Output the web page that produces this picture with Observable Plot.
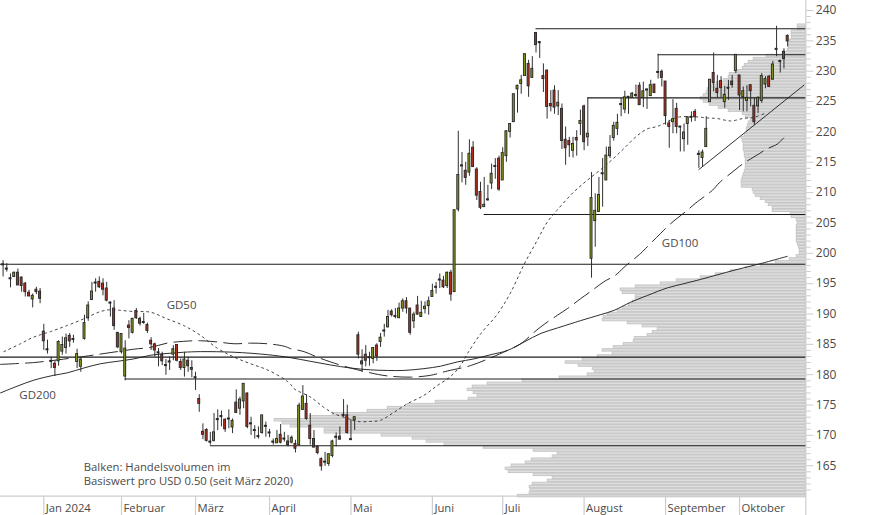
<!DOCTYPE html>
<html><head><meta charset="utf-8">
<style>html,body{margin:0;padding:0;background:#fff}svg{display:block}</style>
<script src="https://cdn.jsdelivr.net/npm/d3@7"></script>
<script src="https://cdn.jsdelivr.net/npm/@observablehq/plot@0.6"></script>
</head><body><div id="chart"></div>
<script>
const firstSession = -11;
const high = [198.8,198.3,196.6,196.9,197.4,196.1,195.2,193.9,193.3,194.4,194.2,
188.3,185.7,182.9,182.3,185.6,186.2,186.7,186.8,186.5,184.2,
182.8,189.8,192.0,195.2,195.8,196.1,195.8,195.2,192.0,192.2,
186.9,186.7,185.6,188.9,189.3,190.9,189.5,190.1,188.5,186.1,
185.2,184.3,183.7,182.5,182.9,184.8,184.9,182.6,183.7,182.9,
182.3,180.4,176.7,171.9,171.1,170.5,173.6,174.2,174.0,172.7,
174.2,172.7,177.5,176.3,178.5,177.0,173.0,171.6,171.4,173.3,
172.2,171.0,169.4,170.8,171.8,170.5,170.0,169.9,169.2,175.3,
178.2,176.7,173.6,170.8,168.3,166.3,167.2,167.0,169.2,170.4,
171.4,175.9,175.0,172.6,173.1,187.0,184.1,184.8,183.7,184.4,
185.1,186.8,188.3,190.6,190.7,190.9,191.8,192.5,192.7,190.9,
190.3,192.9,192.1,192.0,192.8,194.9,195.2,196.6,196.2,196.9,
197.2,207.1,220.1,216.6,215.0,218.7,218.4,214.1,211.7,212.5,
211.2,214.7,215.6,216.0,217.4,220.2,221.3,226.3,227.7,229.3,
232.9,231.8,232.4,236.4,234.9,231.2,230.2,226.8,227.6,226.8,
224.6,220.8,219.1,219.1,220.2,223.6,224.4,225.6,213.3,209.8,
212.5,215.6,217.5,219.4,221.6,222.9,225.5,226.7,225.8,226.5,
227.7,228.1,228.2,227.1,228.5,227.8,232.8,230.2,228.3,221.9,
225.3,224.7,220.9,221.3,222.5,223.3,223.7,216.9,217.0,222.5,
228.6,233.0,229.3,229.1,227.5,228.5,229.3,232.7,229.3,227.4,
227.6,227.7,225.6,225.8,229.6,229.1,229.3,231.6,237.4,231.8,
233.7,236.0];
const low = [196.1,196.9,194.3,196.0,194.7,193.6,192.8,192.8,191.0,193.2,191.7,
184.0,183.4,181.0,179.7,181.4,183.2,183.4,184.5,185.2,181.0,
180.4,185.7,188.8,192.2,193.6,194.2,193.0,192.0,189.5,187.3,
184.3,183.4,179.0,185.9,186.7,189.1,188.0,188.3,186.8,184.0,
182.9,181.3,181.5,179.9,180.7,182.3,182.1,180.7,179.6,180.4,
179.5,177.4,173.8,169.3,168.9,168.4,168.9,170.8,171.4,170.5,
171.1,170.3,173.6,173.3,174.4,171.1,170.0,169.4,169.4,170.2,
169.7,169.6,168.4,168.7,168.6,168.9,168.1,168.6,167.1,168.3,
174.1,172.5,168.4,167.9,166.8,164.1,164.9,164.9,166.3,168.1,
169.2,173.0,170.2,169.2,170.8,182.6,180.4,181.3,181.4,181.8,
182.2,184.5,186.2,187.7,189.5,189.2,189.3,190.3,190.0,186.5,
187.6,189.8,189.5,190.0,189.8,192.8,193.3,194.2,194.2,194.2,
192.1,193.6,206.8,211.6,211.2,212.7,214.2,208.7,207.2,207.6,
208.6,210.5,212.2,210.2,212.0,215.0,219.0,221.6,223.1,226.2,
229.2,225.7,228.9,233.0,232.1,226.5,222.1,223.3,222.9,222.7,
217.1,214.5,215.8,215.7,216.0,219.4,216.9,217.6,195.9,201.0,
206.8,207.6,212.0,215.6,218.5,219.4,222.5,223.0,222.9,225.6,
225.6,224.4,224.0,223.7,225.8,226.3,228.7,227.4,221.1,217.3,
219.7,219.7,216.7,216.7,217.8,221.6,221.7,214.0,214.2,217.5,
224.9,226.6,225.6,225.6,223.9,225.2,227.2,229.6,223.5,223.3,
223.3,224.1,221.1,223.0,224.7,227.1,227.3,228.5,232.4,229.7,
230.4,234.0];
const open = [198.1,197.4,195.8,196.1,196.8,196.0,195.0,193.5,192.4,194.0,193.7,
187.1,184.1,182.2,181.8,182.2,183.8,184.4,186.4,185.8,182.1,
181.3,185.9,189.3,192.3,195.1,195.3,195.0,194.2,191.8,190.9,
186.9,183.7,179.7,188.1,186.9,190.5,189.2,188.6,188.2,185.6,
185.0,183.6,183.3,181.5,182.1,183.3,184.9,182.1,181.1,182.3,
181.1,179.5,176.0,170.6,170.9,168.9,169.1,172.6,173.1,172.6,
172.7,171.3,175.4,174.4,175.6,176.9,171.9,170.8,169.8,170.4,
171.5,170.4,168.9,168.7,170.1,169.4,169.0,168.8,168.6,168.4,
174.2,175.2,171.6,169.4,168.1,166.1,165.6,165.3,166.6,169.7,
169.8,173.3,173.3,169.3,172.5,186.5,182.2,183.3,182.8,182.6,
184.8,185.4,187.2,187.8,190.4,189.6,189.3,190.9,192.1,190.9,
188.8,191.4,189.5,190.8,191.3,192.8,194.4,195.6,195.5,194.6,
196.8,193.6,207.2,214.4,213.6,213.3,217.4,213.8,210.1,207.6,
208.8,211.5,214.3,215.6,212.0,216.0,220.0,221.6,227.0,227.9,
229.2,231.2,228.9,236.3,234.7,229.2,230.1,224.6,226.8,224.2,
223.8,218.7,218.5,216.9,219.0,221.3,224.2,219.1,199.1,205.3,
206.8,213.1,212.0,216.0,219.0,220.5,224.5,223.7,225.7,225.6,
226.0,227.6,225.6,226.9,225.9,227.8,229.8,229.9,228.3,221.4,
221.6,223.8,220.8,218.8,221.3,222.4,223.3,216.3,215.7,217.5,
224.9,229.7,227.1,228.4,224.9,227.2,228.3,230.0,229.3,225.7,
225.1,227.7,224.3,224.2,225.1,227.8,229.1,228.6,233.6,231.6,
233.2,235.8];
const close = [198.1,197.4,195.8,196.8,194.7,194.6,193.6,192.9,193.0,193.6,192.5,
185.5,184.1,182.2,181.1,185.4,184.9,186.0,185.5,185.8,183.4,
182.5,188.5,191.4,193.7,195.1,194.4,194.0,192.2,191.8,188.0,
184.5,186.7,184.3,187.7,189.2,189.3,188.4,188.6,187.2,185.0,
184.0,183.6,182.2,181.5,182.1,184.2,182.3,181.1,182.5,181.4,
180.8,179.5,175.2,170.1,169.1,168.9,170.5,172.6,173.1,171.0,
172.7,172.4,173.7,175.9,178.5,171.4,171.9,170.8,169.8,173.3,
171.5,170.4,168.9,169.4,168.8,169.4,168.4,169.6,167.8,174.9,
176.4,172.7,169.4,168.0,167.1,164.9,165.6,166.9,169.0,169.7,
169.3,173.3,170.4,169.3,173.0,183.3,181.7,182.3,182.8,184.4,
183.0,186.1,187.2,189.5,189.8,189.6,190.9,192.1,190.9,186.9,
189.9,189.9,190.2,191.2,192.1,193.8,194.4,195.6,194.4,196.8,
193.2,207.1,212.9,214.4,212.4,216.4,214.2,209.5,207.5,208.0,
208.8,213.1,214.3,210.5,216.5,220.1,221.3,226.2,227.6,228.5,
232.8,227.5,230.4,234.3,234.7,228.7,224.1,224.2,224.0,224.8,
218.5,217.3,217.8,218.0,218.6,221.8,218.3,219.7,209.1,207.0,
209.6,213.1,216.1,217.4,221.0,221.5,224.5,225.7,225.7,226.3,
226.0,224.4,226.7,226.9,227.7,226.4,229.8,228.9,222.6,220.8,
222.1,220.8,220.8,219.9,222.4,222.4,222.4,216.3,216.6,220.5,
228.6,228.0,226.4,227.2,226.1,227.2,227.7,232.7,226.0,226.7,
225.6,226.7,221.6,225.6,229.2,228.7,227.4,231.1,233.6,231.6,
232.0,234.9];

// Volume profile: one value per USD 0.50 price level, from 237.5 downwards
const topLevel = 237.5;
const volume = [8,8,14,14,14,16,17,17,18,23,39,52,57,61,63,68,76,77,82,89,
94,98,99,102,105,102,96,87,77,63,60,55,57,58,59,59,61,64,63,62,
62,62,61,61,60,60,60,60,61,62,63,64,64,64,53,52,50,45,40,37,
33,33,15,14,9,8,9,9,9,9,9,9,8,7,6,6,9,16,30,45,
60,75,90,105,129,145,170,185,183,170,170,173,177,183,188,198,202,203,178,163,
148,153,158,171,172,182,192,203,193,208,223,240,227,213,211,218,246,283,318,333,
338,332,328,337,370,398,418,438,473,496,531,523,515,481,481,424,393,379,361,322,
272,248,253,274,280,294,300,297,272,253,258,273,276,275,276,288];

// Moving averages
const gd50Session = [-10.8,-6.3,-2.7,1.8,6.3,10.8,15.3,18,20.7,24.3,28.8,33.3,37.8,42.3,46.8,51.4,55.9,60.4,64.9,66.7,
67.6,72.1,75.7,78.4,82,84.7,88.3,91,94.6,98.2,102.7,106.3,109.9,112.6,114.4,118,122.6,126.2,129.8,133.3,136,138.7,143.2,146.8,151.3,155.8,160.4,163.1,165.8,168,171.2,175.7,179.3,182,185.6,188.8,191.9,194.6];
const gd50Value = [183.8,185.1,186.2,187.1,188.1,189.2,190.4,190.7,190.6,190.4,190.3,189.2,188.1,186.5,184.4,182.9,181.8,180.8,179.3,178.4,
177.7,176.3,174.6,173.6,172.8,172.3,172.3,172.5,173.8,175.2,176.6,178.2,179.7,181.5,183.4,186.7,190,193.6,198.2,202.1,205.1,207.1,210.1,212,214.2,216.7,219.4,220.5,220.9,221.5,222.4,222.5,222.3,222.2,221.8,222.2,222.4,223];
const gd100Session = [-11.7,-2.7,1.8,10.8,15.3,19.8,24.3,28.8,33.3,37.8,42.3,46.8,51.4,55.9,60.4,64.9,66.7,70.3,73.9,77.5,82.9,88.3,92.8,99.1,104.5,109,115.3,120.8,125.3,128.9,132.5,135.2,138.8,141.5,145,148.2,151.3,154.5,156.8,161.3,163.1,166.7,169.4,173.9,176.2,180.7,182.5,186.5,188.8,193.3,195.4,198.2,199.9];
const gd100Value = [181.7,182,182.3,183,183.4,183.8,184.2,184.5,185.2,185.5,185.6,185.4,185.1,185.2,185.1,184.7,184.3,183.8,182.9,182.1,181.1,180.3,179.8,179.6,179.9,180.6,181.5,182.8,184,185.1,187,188.3,189.8,190.9,192.5,193.9,195.3,196.4,197.7,200,201.1,203.3,204.9,207.1,208.3,210.4,211.6,213.6,214.7,216.4,217.2,218,219];
const gd200Session = [-11.7,-7.2,-2.7,2.7,6.3,10.8,15.3,19.8,24.3,28.8,33.3,37.8,42.3,51.4,60.4,66.7,72.1,77.5,82.9,88.3,92.8,97.3,102.7,107.2,111.7,116.2,120.8,125.3,129.8,134.3,138.8,142.4,145,150.5,154.1,158.6,163.1,168.5,173,177.5,186.5,193.7,200.9];
const gd200Value = [177,178.1,179.1,179.9,180.3,181.1,181.8,182.2,182.6,183.2,183.5,183.7,183.8,183.7,183.3,182.8,182.2,181.6,181.1,180.8,180.7,180.7,181,181.4,182.1,182.6,183.3,184,185.4,186.8,187.7,188.4,188.9,189.9,190.6,191.95,193.05,194.3,195,195.7,197.2,198.3,199.5];

// Horizontal support / resistance lines and the trend line
const levelPrice = [198.2,182.9,179.3,168.3,206.4,225.6,232.7,237.0];
const levelStart = [-11.7,-11.7,22,45,119,147,166,133];
const trendSession = [177,205.4];
const trendPrice = [213.8,227.7];

// Axis contents
const monthSession = [0,21,41,61,83,105,124,146,168,188];
const monthLabel = ["Jan 2024","Februar","März","April","Mai","Juni","Juli","August","September","Oktober"];
const majorTicks = [165,170,175,180,185,190,195,200,205,210,215,220,225,230,235,240];
const minorTicks = d3.range(161,240).filter(v => v % 5 !== 0);

const noteLines = ["Balken: Handelsvolumen im","Basiswert pro USD 0.50 (seit März 2020)"];
const notePrice = [164.7,162.4];
const noteSession = 10.8;
const maLabels = ["GD50","GD100","GD200"];
const maLabelSession = [33.2,167,-6.6];
const maLabelPrice = [191.4,201.7,176.6];

const xMin = -11.7, xMax = 205.9, yMin = 160, axisBottom = 156.75, axisTop = 241.6;
const volumePerSession = 3.7;
const textColor = "#4a4a4a", axisColor = "#cdcdcd", lineColor = "#1c1c1c";
const olive = "#8d9c16", red = "#b32f1d", outline = "#262626";

const sessions = d3.range(high.length).map(k => k + firstSession);
const idx = d3.range(high.length);
const bodyLow = k => open[k] === close[k] ? close[k] - 0.09 : Math.min(open[k], close[k]);
const bodyHigh = k => open[k] === close[k] ? close[k] + 0.09 : Math.max(open[k], close[k]);
const toPoints = (xs, ys) => xs.map((x, k) => ({x, y: ys[k]}));

const chart = Plot.plot({
  width: 874, height: 515,
  marginTop: 0, marginRight: 68.7, marginBottom: 19.4, marginLeft: 0,
  style: {fontFamily: "'Open Sans',sans-serif", fontSize: "11.3px", background: "#fff", overflow: "visible"},
  x: {domain: [xMin, xMax], range: [0, 805.3], axis: null},
  y: {domain: [yMin, 240], range: [495.6, 10], axis: null},
  marks: [
    // volume profile
    Plot.rect(volume, {
      x1: v => xMax - v / volumePerSession, x2: xMax,
      y1: (v, k) => topLevel - k * 0.5 - 0.2, y2: (v, k) => topLevel - k * 0.5 + 0.2,
      fill: "#dedede", stroke: "#c6c6c6", strokeWidth: 1
    }),
    // axes frame
    Plot.ruleY([yMin], {x1: xMin, x2: xMax, stroke: axisColor, strokeWidth: 1.2}),
    Plot.ruleX([xMax], {y1: axisBottom, y2: axisTop, stroke: axisColor, strokeWidth: 1.2}),
    Plot.ruleX(monthSession, {y1: yMin, y2: axisBottom, stroke: axisColor, strokeWidth: 1.2}),
    Plot.text(monthLabel, {x: (d, k) => monthSession[k], y: 158.05, text: d => d, textAnchor: "start", dx: 2, fill: textColor, fontSize: 11.3}),
    Plot.axisY(minorTicks, {anchor: "right", tickSize: 4.5, tickFormat: () => "", stroke: axisColor, label: null}),
    Plot.axisY(majorTicks, {anchor: "right", tickSize: 7, tickPadding: 3, stroke: axisColor, fill: textColor, fontSize: 12, label: null}),
    // moving averages
    Plot.line(toPoints(gd50Session, gd50Value), {x: "x", y: "y", curve: "catmull-rom", stroke: "#222", strokeWidth: 0.85, strokeDasharray: "2,3.6"}),
    Plot.line(toPoints(gd100Session, gd100Value), {x: "x", y: "y", curve: "catmull-rom", stroke: "#222", strokeWidth: 0.95, strokeDasharray: "18,7"}),
    Plot.line(toPoints(gd200Session, gd200Value), {x: "x", y: "y", curve: "catmull-rom", stroke: "#222", strokeWidth: 0.95}),
    // levels
    Plot.ruleY(levelPrice, {x1: (d, k) => levelStart[k], x2: xMax, stroke: lineColor, strokeWidth: 1.1}),
    Plot.line(toPoints(trendSession, trendPrice), {x: "x", y: "y", stroke: lineColor, strokeWidth: 0.9}),
    // candlesticks
    Plot.ruleX(idx, {x: k => sessions[k], y1: k => low[k], y2: k => high[k], stroke: outline, strokeWidth: 0.95}),
    Plot.rect(idx, {
      x1: k => sessions[k] - 0.27, x2: k => sessions[k] + 0.27,
      y1: bodyLow, y2: bodyHigh,
      fill: k => close[k] > open[k] ? olive : close[k] < open[k] ? red : outline,
      stroke: outline, strokeWidth: 0.9
    }),
    // labels
    Plot.text(maLabels, {x: (d, k) => maLabelSession[k], y: (d, k) => maLabelPrice[k], text: d => d, textAnchor: "start", fill: textColor, fontSize: 11.5}),
    Plot.text(noteLines, {x: noteSession, y: (d, k) => notePrice[k], text: d => d, textAnchor: "start", fill: textColor, fontSize: 11.3})
  ]
});
document.getElementById("chart").appendChild(chart);
</script></body></html>
